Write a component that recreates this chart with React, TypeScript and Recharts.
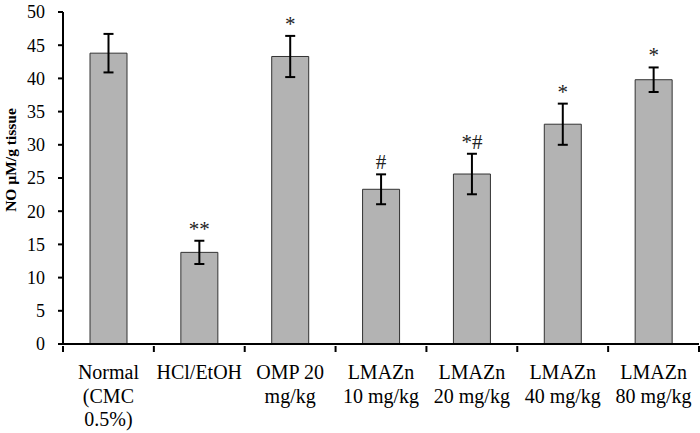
import { BarChart, Bar, XAxis, YAxis, ErrorBar, LabelList, Label } from 'recharts'

const groups = ['Normal (CMC 0.5%)', 'HCl/EtOH', 'OMP 20 mg/kg', 'LMAZn 10 mg/kg', 'LMAZn 20 mg/kg', 'LMAZn 40 mg/kg', 'LMAZn 80 mg/kg']
const tickLines = [['Normal', '(CMC', '0.5%)'], ['HCl/EtOH'], ['OMP 20', 'mg/kg'], ['LMAZn', '10 mg/kg'], ['LMAZn', '20 mg/kg'], ['LMAZn', '40 mg/kg'], ['LMAZn', '80 mg/kg']]
const noLevels = [43.8, 13.8, 43.3, 23.3, 25.6, 33.1, 39.8]
const sem = [2.9, 1.75, 3.1, 2.25, 3.05, 3.1, 1.85]
const marks = ['', '**', '*', '#', '*#', '*', '*']
const yTicks = [0, 5, 10, 15, 20, 25, 30, 35, 40, 45, 50]

const data = groups.map((g, i) => ({ group: g, value: noLevels[i], err: sem[i], mark: marks[i] }))

const W = 700
const H = 433
const LEFT = 63
const RIGHT = 1
const band = (W - LEFT - RIGHT) / groups.length
const font = '"Liberation Serif", "Times New Roman", serif'

function GroupTick(props: any) {
  const { x, y, index } = props
  const lines = tickLines[index] || []
  const left = x - band / 2
  return (
    <g>
      <line x1={left} x2={left} y1={y - 6} y2={y} stroke="#000" strokeWidth={2} />
      {index === groups.length - 1 && (
        <line x1={left + band} x2={left + band} y1={y - 6} y2={y} stroke="#000" strokeWidth={2} />
      )}
      <text x={x} y={y + 27} textAnchor="middle" fontFamily={font} fontSize={20} fill="#000">
        {lines.map((t, k) => (
          <tspan key={k} x={x} dy={k === 0 ? 0 : 23.5}>{t}</tspan>
        ))}
      </text>
    </g>
  )
}

function Mark(props: any) {
  const { x, y, width, height, index } = props
  const d = data[index]
  if (!d || !d.mark) return null
  const top = y - d.err * (height / d.value)
  return (
    <text x={x + width / 2} y={top - 5} textAnchor="middle" fontFamily={font} fontSize={21} fill="#222">
      {d.mark}
    </text>
  )
}

function YTitle(props: any) {
  const vb = props.viewBox || { y: 12, height: 332 }
  const cy = vb.y + vb.height / 2 - 18
  return (
    <text
      transform={`translate(16, ${cy}) rotate(-90)`}
      textAnchor="middle"
      fontFamily={font}
      fontSize={15.5}
      fontWeight="bold"
      fill="#000"
    >
      NO µM/g tissue
    </text>
  )
}

export default function App() {
  return (
    <div style={{ position: 'absolute', left: 0, top: 0, width: W, height: H, background: '#fff' }}>
      <BarChart width={W} height={H} data={data} margin={{ top: 12, right: RIGHT, bottom: 0, left: 0 }} barCategoryGap={27}>
        <XAxis
          dataKey="group"
          height={89}
          axisLine={{ stroke: '#000', strokeWidth: 2 }}
          tickLine={false}
          interval={0}
          tick={<GroupTick />}
        />
        <YAxis
          width={LEFT}
          domain={[0, 50]}
          ticks={yTicks}
          interval={0}
          axisLine={{ stroke: '#000', strokeWidth: 2 }}
          tickLine={{ stroke: '#000', strokeWidth: 2 }}
          tickSize={5}
          tickMargin={13}
          tick={{ fontFamily: font, fontSize: 18, fill: '#000' }}
        >
          <Label content={<YTitle />} />
        </YAxis>
        <Bar dataKey="value" fill="#b3b3b3" stroke="#333" strokeWidth={1} isAnimationActive={false}>
          <ErrorBar dataKey="err" width={5} stroke="#000" strokeWidth={2} isAnimationActive={false} />
          <LabelList dataKey="mark" content={<Mark />} />
        </Bar>
      </BarChart>
    </div>
  )
}
